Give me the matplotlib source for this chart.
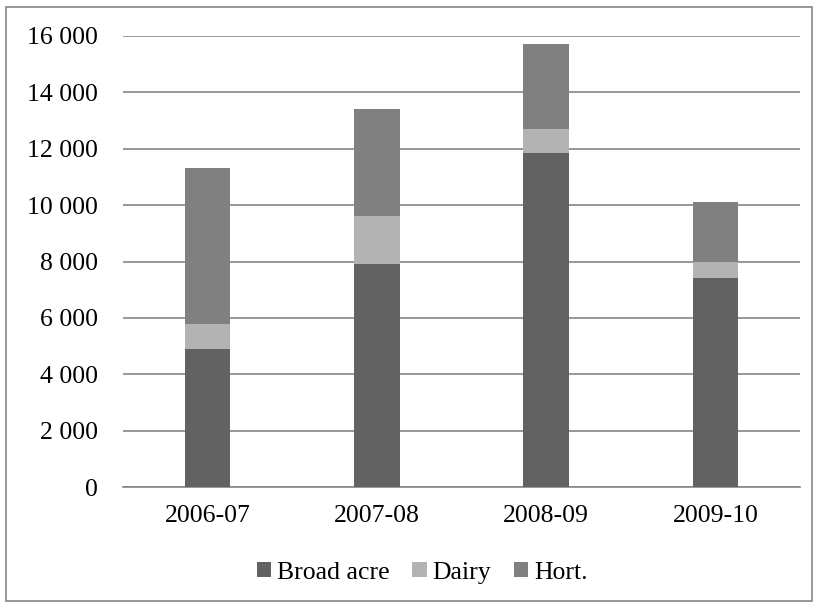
import matplotlib.pyplot as plt
from matplotlib.patches import Rectangle

years = ['2006-07', '2007-08', '2008-09', '2009-10']
broad_acre = [4900, 7900, 11850, 7400]
dairy = [900, 1700, 850, 600]
hort = [5500, 3800, 3000, 2100]

plt.rcParams['font.family'] = ['Liberation Serif', 'DejaVu Serif']

fig = plt.figure(figsize=(8.19, 6.08), dpi=100)
ax = fig.add_axes([123 / 819, 1 - 487 / 608, (800 - 123) / 819, (487 - 36) / 608])

x = range(len(years))
w = 0.27
bottom2 = [a + b for a, b in zip(broad_acre, dairy)]
ax.bar(x, broad_acre, w, color='#626262', label='Broad acre', zorder=3)
ax.bar(x, dairy, w, bottom=broad_acre, color='#b3b3b3', label='Dairy', zorder=3)
ax.bar(x, hort, w, bottom=bottom2, color='#808080', label='Hort.', zorder=3)

ax.set_xlim(-0.5, 3.5)
ax.set_ylim(0, 16000)
ax.set_yticks(range(0, 16001, 2000))
ax.set_yticklabels([f'{v:,}'.replace(',', ' ') for v in range(0, 16001, 2000)])
ax.set_xticks(list(x))
ax.set_xticklabels(years)
ax.grid(axis='y', color='#868686', linewidth=1.2, zorder=0)
for s in ['top', 'right', 'left']:
    ax.spines[s].set_visible(False)
ax.spines['bottom'].set_color('#868686')
ax.spines['bottom'].set_linewidth(1.2)
ax.tick_params(axis='both', length=0, labelsize=18.5, colors='black')
ax.tick_params(axis='y', pad=18)
ax.tick_params(axis='x', pad=13)

ax.legend(loc='center', bbox_to_anchor=(0.442, -0.19), ncol=3, frameon=False,
          fontsize=18.5, handlelength=0.55, handleheight=0.55, handletextpad=0.23,
          columnspacing=0.9, borderaxespad=0)

fig.patches.append(Rectangle((6 / 819, 7 / 608), 806 / 819, 594 / 608,
                             transform=fig.transFigure, fill=False,
                             edgecolor='#868686', linewidth=1.2))

fig.savefig('out.png', dpi=100)
